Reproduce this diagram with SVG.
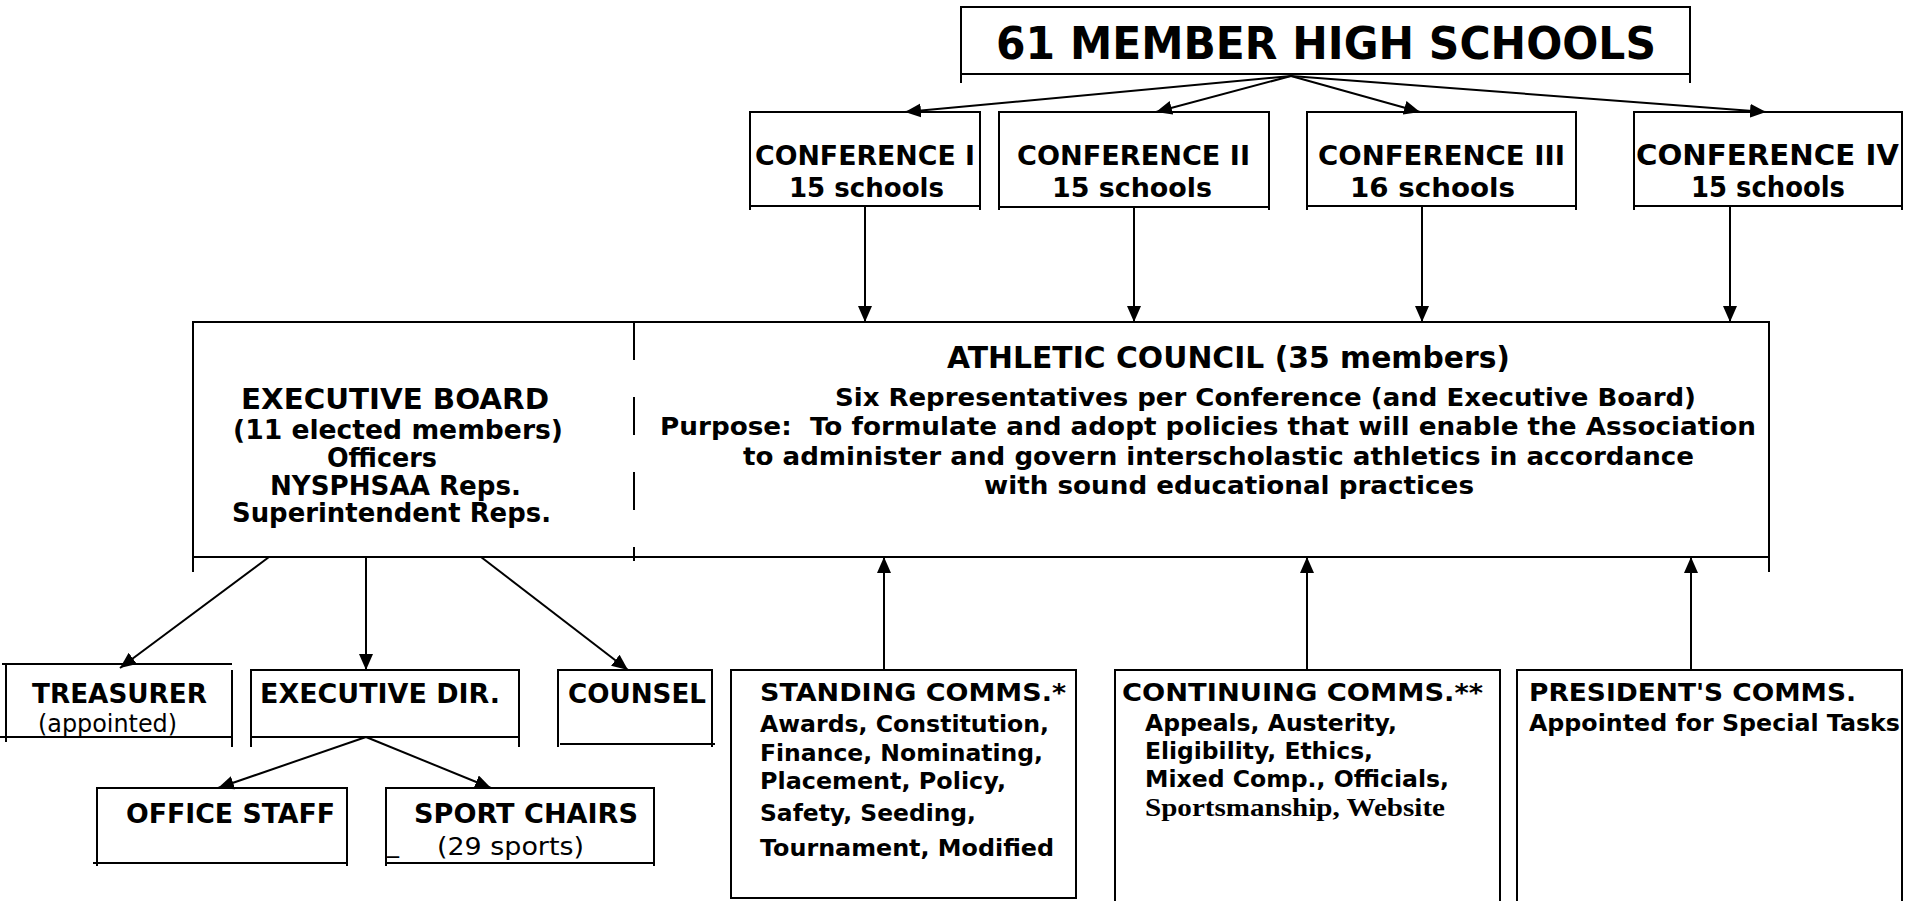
<svg xmlns="http://www.w3.org/2000/svg" width="1919" height="901" viewBox="0 0 1919 901">
<style>
.b{fill:none;stroke:#000;stroke-width:2}
.l{fill:none;stroke:#000;stroke-width:2}
.t{font-family:"DejaVu Sans",Verdana,sans-serif;font-weight:bold;fill:#000}
.r{font-weight:normal}
.s{font-family:"Liberation Serif","Times New Roman",serif;font-weight:bold}
</style>
<defs>
<marker id="ah" markerUnits="userSpaceOnUse" markerWidth="17" markerHeight="15" refX="16" refY="7" orient="auto">
<path d="M0,0 L16,7 L0,14 z" fill="#000"/>
</marker>
</defs>
<rect width="1919" height="901" fill="#fff"/>

<g id="members">
<path class="b" d="M961,83 V7 H1690 V83 M961,74 H1690"/>
<text class="t" x="996" y="59" font-size="45" textLength="660" lengthAdjust="spacingAndGlyphs">61 MEMBER HIGH SCHOOLS</text>
</g>

<g id="conf1">
<path class="b" d="M750,210 V112 H980 V210 M750,206 H980"/>
<text class="t" x="755" y="165" font-size="27" textLength="220" lengthAdjust="spacingAndGlyphs">CONFERENCE I</text>
<text class="t" x="789" y="197" font-size="27" textLength="155" lengthAdjust="spacingAndGlyphs">15 schools</text>
</g>
<g id="conf2">
<path class="b" d="M999,210 V112 H1269 V210 M999,207 H1269"/>
<text class="t" x="1017" y="165" font-size="27" textLength="233" lengthAdjust="spacingAndGlyphs">CONFERENCE II</text>
<text class="t" x="1052" y="197" font-size="27" textLength="160" lengthAdjust="spacingAndGlyphs">15 schools</text>
</g>
<g id="conf3">
<path class="b" d="M1307,210 V112 H1576 V210 M1307,206 H1576"/>
<text class="t" x="1318" y="165" font-size="27" textLength="247" lengthAdjust="spacingAndGlyphs">CONFERENCE III</text>
<text class="t" x="1350" y="197" font-size="27" textLength="165" lengthAdjust="spacingAndGlyphs">16 schools</text>
</g>
<g id="conf4">
<path class="b" d="M1634,210 V112 H1902 V210 M1634,206 H1902"/>
<text class="t" x="1636" y="165" font-size="28" textLength="263" lengthAdjust="spacingAndGlyphs">CONFERENCE IV</text>
<text class="t" x="1691" y="197" font-size="28" textLength="154" lengthAdjust="spacingAndGlyphs">15 schools</text>
</g>

<g id="council">
<path class="b" d="M193,572 V322 H1769 V572 M193,557 H1769"/>
<line class="l" x1="634" y1="322" x2="634" y2="561" stroke-dasharray="38 37"/>
</g>
<g id="executive-board">
<text class="t" x="241" y="409" font-size="29" textLength="308" lengthAdjust="spacingAndGlyphs">EXECUTIVE BOARD</text>
<text class="t" x="233" y="439" font-size="26" textLength="330" lengthAdjust="spacingAndGlyphs">(11 elected members)</text>
<text class="t" x="327" y="467" font-size="26" textLength="110" lengthAdjust="spacingAndGlyphs">Officers</text>
<text class="t" x="270" y="495" font-size="26" textLength="251" lengthAdjust="spacingAndGlyphs">NYSPHSAA Reps.</text>
<text class="t" x="232" y="522" font-size="26" textLength="319" lengthAdjust="spacingAndGlyphs">Superintendent Reps.</text>
</g>
<g id="athletic-council">
<text class="t" x="947" y="368" font-size="30" textLength="563" lengthAdjust="spacingAndGlyphs">ATHLETIC COUNCIL (35 members)</text>
<text class="t" x="835" y="406" font-size="25" textLength="861" lengthAdjust="spacingAndGlyphs">Six Representatives per Conference (and Executive Board)</text>
<text class="t" x="660" y="435" font-size="25" textLength="1096" lengthAdjust="spacingAndGlyphs" xml:space="preserve">Purpose:  To formulate and adopt policies that will enable the Association</text>
<text class="t" x="743" y="465" font-size="25" textLength="951" lengthAdjust="spacingAndGlyphs">to administer and govern interscholastic athletics in accordance</text>
<text class="t" x="984" y="494" font-size="25" textLength="490" lengthAdjust="spacingAndGlyphs">with sound educational practices</text>
</g>

<g id="treasurer">
<path class="b" d="M2,664 H232 M6,664 V742 M232,670 V747 M0,737 H232"/>
<text class="t" x="32" y="703" font-size="26" textLength="175" lengthAdjust="spacingAndGlyphs">TREASURER</text>
<text class="t r" x="38" y="732" font-size="24" textLength="139" lengthAdjust="spacingAndGlyphs">(appointed)</text>
</g>
<g id="executive-dir">
<path class="b" d="M251,747 V670 H519 V747 M251,737 H519"/>
<text class="t" x="260" y="703" font-size="26" textLength="240" lengthAdjust="spacingAndGlyphs">EXECUTIVE DIR.</text>
</g>
<g id="counsel">
<path class="b" d="M558,747 V670 H712 V747 M560,744 H715"/>
<text class="t" x="568" y="703" font-size="26" textLength="138" lengthAdjust="spacingAndGlyphs">COUNSEL</text>
</g>
<g id="office-staff">
<path class="b" d="M97,866 V788 H347 V866 M93,863 H347"/>
<text class="t" x="126" y="823" font-size="26" textLength="209" lengthAdjust="spacingAndGlyphs">OFFICE STAFF</text>
</g>
<g id="sport-chairs">
<path class="b" d="M386,866 V788 H654 V866 M386,863 H654"/>
<text class="t" x="414" y="823" font-size="26" textLength="224" lengthAdjust="spacingAndGlyphs">SPORT CHAIRS</text>
<text class="t r" x="387" y="852" font-size="24">_</text>
<text class="t r" x="437" y="855" font-size="24" textLength="147" lengthAdjust="spacingAndGlyphs">(29 sports)</text>
</g>

<g id="standing">
<rect class="b" x="731" y="670" width="345" height="228"/>
<text class="t" x="760" y="701" font-size="25" textLength="306" lengthAdjust="spacingAndGlyphs">STANDING COMMS.*</text>
<text class="t" x="760" y="732" font-size="23" textLength="289" lengthAdjust="spacingAndGlyphs">Awards, Constitution,</text>
<text class="t" x="760" y="761" font-size="23" textLength="283" lengthAdjust="spacingAndGlyphs">Finance, Nominating,</text>
<text class="t" x="760" y="789" font-size="23" textLength="246" lengthAdjust="spacingAndGlyphs">Placement, Policy,</text>
<text class="t" x="760" y="821" font-size="23" textLength="216" lengthAdjust="spacingAndGlyphs">Safety, Seeding,</text>
<text class="t" x="760" y="856" font-size="23" textLength="294" lengthAdjust="spacingAndGlyphs">Tournament, Modified</text>
</g>
<g id="continuing">
<path class="b" d="M1115,901 V670 H1500 V901"/>
<text class="t" x="1122" y="701" font-size="25" textLength="361" lengthAdjust="spacingAndGlyphs">CONTINUING COMMS.**</text>
<text class="t" x="1145" y="731" font-size="23" textLength="252" lengthAdjust="spacingAndGlyphs">Appeals, Austerity,</text>
<text class="t" x="1145" y="759" font-size="23" textLength="228" lengthAdjust="spacingAndGlyphs">Eligibility, Ethics,</text>
<text class="t" x="1145" y="787" font-size="23" textLength="304" lengthAdjust="spacingAndGlyphs">Mixed Comp., Officials,</text>
<text class="t s" x="1145" y="816" font-size="26" textLength="300" lengthAdjust="spacingAndGlyphs">Sportsmanship, Website</text>
</g>
<g id="presidents">
<path class="b" d="M1517,901 V670 H1902 V901"/>
<text class="t" x="1529" y="701" font-size="25" textLength="327" lengthAdjust="spacingAndGlyphs">PRESIDENT'S COMMS.</text>
<text class="t" x="1529" y="731" font-size="23" textLength="371" lengthAdjust="spacingAndGlyphs">Appointed for Special Tasks</text>
</g>

<g id="connectors">
<line class="l" x1="1291" y1="76" x2="905" y2="112" marker-end="url(#ah)"/>
<line class="l" x1="1291" y1="76" x2="1156" y2="112" marker-end="url(#ah)"/>
<line class="l" x1="1291" y1="76" x2="1420" y2="112" marker-end="url(#ah)"/>
<line class="l" x1="1291" y1="76" x2="1766" y2="112" marker-end="url(#ah)"/>
<line class="l" x1="865" y1="206" x2="865" y2="322" marker-end="url(#ah)"/>
<line class="l" x1="1134" y1="207" x2="1134" y2="322" marker-end="url(#ah)"/>
<line class="l" x1="1422" y1="206" x2="1422" y2="322" marker-end="url(#ah)"/>
<line class="l" x1="1730" y1="206" x2="1730" y2="322" marker-end="url(#ah)"/>
<line class="l" x1="884" y1="670" x2="884" y2="557" marker-end="url(#ah)"/>
<line class="l" x1="1307" y1="670" x2="1307" y2="557" marker-end="url(#ah)"/>
<line class="l" x1="1691" y1="670" x2="1691" y2="557" marker-end="url(#ah)"/>
<line class="l" x1="269" y1="557" x2="120" y2="668" marker-end="url(#ah)"/>
<line class="l" x1="366" y1="557" x2="366" y2="670" marker-end="url(#ah)"/>
<line class="l" x1="481" y1="557" x2="628" y2="670" marker-end="url(#ah)"/>
<line class="l" x1="366" y1="737" x2="218" y2="788" marker-end="url(#ah)"/>
<line class="l" x1="366" y1="737" x2="491" y2="788" marker-end="url(#ah)"/>
</g>
</svg>
